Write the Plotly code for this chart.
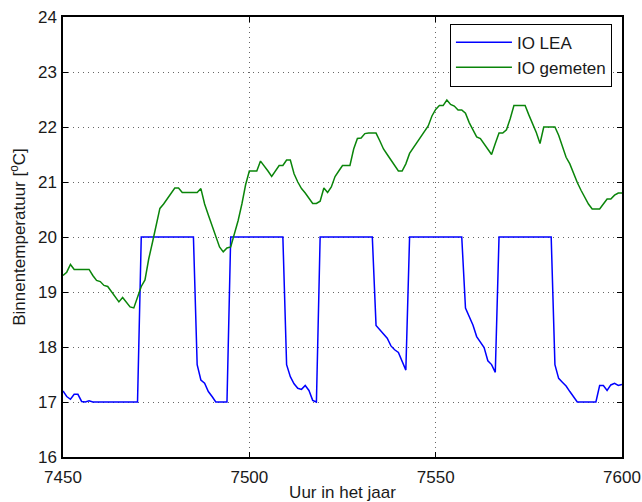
import plotly.graph_objects as go

# Hours of the year shown on the x axis (hourly samples)
hours = list(range(7450, 7601))

# Indoor temperature from the LEA model [°C]
io_lea = [
    17.20, 17.10, 17.05, 17.14, 17.14, 17.01, 17.00, 17.02, 17.00, 17.00,  # 7450-7459
    17.00, 17.00, 17.00, 17.00, 17.00, 17.00, 17.00, 17.00, 17.00, 17.00,  # 7460-7469
    17.00, 20.00, 20.00, 20.00, 20.00, 20.00, 20.00, 20.00, 20.00, 20.00,  # 7470-7479
    20.00, 20.00, 20.00, 20.00, 20.00, 20.00, 17.68, 17.40, 17.34, 17.19,  # 7480-7489
    17.10, 17.00, 17.00, 17.00, 17.00, 20.00, 20.00, 20.00, 20.00, 20.00,  # 7490-7499
    20.00, 20.00, 20.00, 20.00, 20.00, 20.00, 20.00, 20.00, 20.00, 20.00,  # 7500-7509
    17.68, 17.46, 17.33, 17.25, 17.23, 17.30, 17.21, 17.03, 17.00, 20.00,  # 7510-7519
    20.00, 20.00, 20.00, 20.00, 20.00, 20.00, 20.00, 20.00, 20.00, 20.00,  # 7520-7529
    20.00, 20.00, 20.00, 20.00, 18.39, 18.31, 18.23, 18.16, 18.02, 17.95,  # 7530-7539
    17.90, 17.74, 17.58, 20.00, 20.00, 20.00, 20.00, 20.00, 20.00, 20.00,  # 7540-7549
    20.00, 20.00, 20.00, 20.00, 20.00, 20.00, 20.00, 20.00, 18.71, 18.56,  # 7550-7559
    18.40, 18.19, 18.08, 17.99, 17.75, 17.68, 17.54, 20.00, 20.00, 20.00,  # 7560-7569
    20.00, 20.00, 20.00, 20.00, 20.00, 20.00, 20.00, 20.00, 20.00, 20.00,  # 7570-7579
    20.00, 20.00, 17.68, 17.43, 17.36, 17.29, 17.19, 17.10, 17.00, 17.00,  # 7580-7589
    17.00, 17.00, 17.00, 17.00, 17.30, 17.30, 17.21, 17.31, 17.34, 17.30,  # 7590-7599
    17.32,                                                                  # 7600
]

# Measured indoor temperature [°C]
io_gemeten = [
    19.30, 19.36, 19.50, 19.41, 19.41, 19.41, 19.41, 19.41, 19.30, 19.21,  # 7450-7459
    19.19, 19.12, 19.10, 19.01, 18.92, 18.82, 18.90, 18.81, 18.73, 18.71,  # 7460-7469
    18.90, 19.10, 19.22, 19.60, 19.90, 20.20, 20.52, 20.60, 20.70, 20.80,  # 7470-7479
    20.89, 20.89, 20.81, 20.81, 20.81, 20.81, 20.81, 20.88, 20.60, 20.40,  # 7480-7489
    20.20, 20.00, 19.82, 19.73, 19.80, 19.82, 20.05, 20.30, 20.60, 20.95,  # 7490-7499
    21.20, 21.20, 21.20, 21.38, 21.30, 21.20, 21.10, 21.20, 21.30, 21.30,  # 7500-7509
    21.40, 21.40, 21.15, 21.00, 20.88, 20.80, 20.70, 20.61, 20.61, 20.65,  # 7510-7519
    20.89, 20.81, 20.91, 21.10, 21.20, 21.30, 21.30, 21.30, 21.60, 21.79,  # 7520-7529
    21.80, 21.88, 21.89, 21.89, 21.89, 21.75, 21.60, 21.50, 21.40, 21.30,  # 7530-7539
    21.20, 21.20, 21.33, 21.52, 21.62, 21.72, 21.82, 21.92, 22.02, 22.20,  # 7540-7549
    22.32, 22.39, 22.39, 22.49, 22.41, 22.38, 22.31, 22.31, 22.25, 22.08,  # 7550-7559
    21.95, 21.82, 21.79, 21.70, 21.60, 21.50, 21.70, 21.89, 21.89, 21.95,  # 7560-7569
    22.15, 22.39, 22.39, 22.39, 22.39, 22.22, 22.07, 21.90, 21.70, 22.00,  # 7570-7579
    22.00, 22.00, 22.00, 21.85, 21.65, 21.45, 21.33, 21.15, 20.99, 20.85,  # 7580-7589
    20.72, 20.60, 20.51, 20.51, 20.51, 20.60, 20.69, 20.69, 20.76, 20.80,  # 7590-7599
    20.80,                                                                  # 7600
]

x_ticks = [7450, 7500, 7550, 7600]
y_ticks = [16, 17, 18, 19, 20, 21, 22, 23, 24]

font_family = "Liberation Sans, Arial, Helvetica, sans-serif"
text_color = "#1a1a1a"
font_size = 17

fig = go.Figure()
fig.add_trace(go.Scatter(
    x=hours, y=io_lea, mode="lines", name="IO LEA",
    line=dict(color="#0000ff", width=1.5),
))
fig.add_trace(go.Scatter(
    x=hours, y=io_gemeten, mode="lines", name="IO gemeten",
    line=dict(color="#0a850a", width=1.5),
))

axis_common = dict(
    showline=True, mirror="ticks", linecolor="#000000", linewidth=1.5,
    ticks="inside", ticklen=5, tickwidth=1, tickcolor="#000000",
    showgrid=True, gridcolor="#666666", gridwidth=1, griddash="1px,4px",
    zeroline=False, automargin=False,
    tickfont=dict(family=font_family, size=font_size, color=text_color),
)

fig.update_xaxes(
    range=[7450, 7600], tickvals=x_ticks, ticklabelstandoff=4,
    title=dict(text="Uur in het jaar", standoff=8,
               font=dict(family=font_family, size=font_size, color=text_color)),
    **axis_common,
)
fig.update_yaxes(
    range=[16, 24], tickvals=y_ticks, ticklabelstandoff=1,
    title=dict(text="Binnentemperatuur [<sup>o</sup>C]", standoff=8,
               font=dict(family=font_family, size=font_size, color=text_color)),
    **axis_common,
)

fig.update_layout(
    width=642, height=502,
    margin=dict(l=63, r=20, t=17, b=45),
    paper_bgcolor="#ffffff", plot_bgcolor="#ffffff",
    font=dict(family=font_family, size=font_size, color=text_color),
    showlegend=True,
    legend=dict(
        x=0.982, y=0.985, xanchor="right", yanchor="top",
        bgcolor="#ffffff", bordercolor="#000000", borderwidth=1,
        font=dict(family=font_family, size=font_size, color=text_color),
        tracegroupgap=0, itemwidth=56,
    ),
)

fig.write_html("out.html")
